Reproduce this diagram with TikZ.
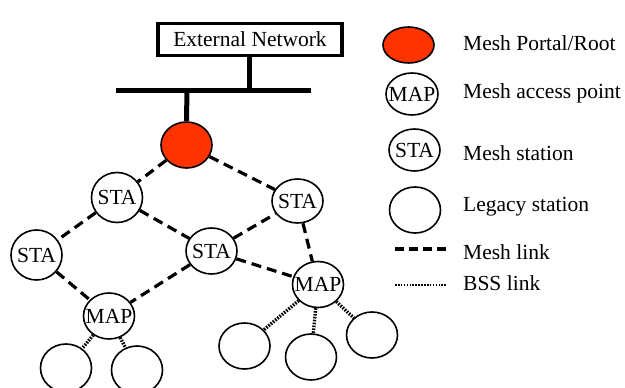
\documentclass[tikz,border=0pt]{standalone}
\usepackage{fontspec}
\setmainfont{Liberation Serif}
\usetikzlibrary{shapes.geometric}
\definecolor{portalred}{HTML}{FF3300}
\begin{document}
\begin{tikzpicture}[x=1pt,y=-1pt,
  every node/.style={font=\fontsize{21.5}{25}\selectfont},
  dev/.style={ellipse,draw,line width=1.6pt,minimum width=51pt,minimum height=46pt,inner sep=0pt},
  meshlink/.style={line width=3.2pt,dash pattern=on 10pt off 6pt},
  bsslink/.style={line width=3.4pt,dash pattern=on 1.6pt off 1.3pt},
  bar/.style={line width=5pt},
  legtext/.style={anchor=west,inner sep=0pt}]
\useasboundingbox (0,0) rectangle (625,388);
% external network
\node[draw,line width=3.5pt,minimum width=184pt,minimum height=32pt,inner sep=0pt] (ext) at (250,39.5) {External Network};
\coordinate (b1) at (249,90);
\coordinate (bl) at (116,90);
\coordinate (br) at (311,90);
\coordinate (b2) at (187,90);
\draw[bar] (bl) -- (br);
\draw[bar] (ext.south -| b1) -- (b1);
% nodes
\node[dev,fill=portalred] (root) at (186.5,145) {};
\node[dev,minimum height=50pt] (sta1) at (117,197.5) {}; \node at (sta1) {STA};
\node[dev,minimum height=44pt] (sta2) at (297.5,201) {}; \node at (sta2) {STA};
\node[dev,minimum height=50pt] (sta3) at (36.5,255) {}; \node at (sta3) {STA};
\node[dev] (sta4) at (211.5,251) {}; \node at (sta4) {STA};
\node[dev] (map1) at (109,316) {}; \node at (map1) {MAP};
\node[dev] (map2) at (318,284.5) {}; \node at (map2) {MAP};
\node[dev,minimum height=48pt] (l1) at (66,368) {};
\node[dev,minimum height=48pt] (l2) at (137,370) {};
\node[dev] (l3) at (244.5,346) {};
\node[dev] (l4) at (311,357) {};
\node[dev] (l5) at (372,335) {};
\draw[bar] (b2) -- (root.north);
% mesh links
\draw[meshlink] (root) -- (sta1);
\draw[meshlink] (root) -- (sta2);
\draw[meshlink] (sta1) -- (sta3);
\draw[meshlink] (sta1) -- (sta4);
\draw[meshlink] (sta3) -- (map1);
\draw[meshlink] (sta4) -- (map1);
\draw[meshlink] (sta4) -- (sta2);
\draw[meshlink] (sta4) -- (map2);
\draw[meshlink] (sta2) -- (map2);
% bss links
\draw[bsslink] (map1) -- (l1);
\draw[bsslink] (map1) -- (l2);
\draw[bsslink] (map2) -- (l3);
\draw[bsslink] (map2) -- (l4);
\draw[bsslink] (map2) -- (l5);
% legend
\node[dev,fill=portalred,minimum height=36pt] (kroot) at (408.5,45) {};
\node[dev,minimum width=52pt,minimum height=42pt] (kmap) at (412,94) {}; \node at (kmap) {MAP};
\node[dev,minimum height=42pt] (ksta) at (414.5,150) {}; \node at (ksta) {STA};
\node[dev] (kleg) at (415,210) {};
\coordinate (km1) at (395,249);
\coordinate (km2) at (446,249);
\coordinate (kb1) at (395,285);
\coordinate (kb2) at (446,285);
\draw[meshlink,dash pattern=on 9pt off 5pt] (km1) -- (km2);
\draw[bsslink,line width=2.5pt] (kb1) -- (kb2);
\node[legtext] (t1) at (463,43) {Mesh Portal/Root};
\node[legtext] (t2) at (463,93) {Mesh access point};
\node[legtext] (t3) at (463,153) {Mesh station};
\node[legtext] (t4) at (463,207) {Legacy station};
\node[legtext] (t5) at (463,252) {Mesh link};
\node[legtext] (t6) at (463,283) {BSS link};
\end{tikzpicture}
\end{document}
